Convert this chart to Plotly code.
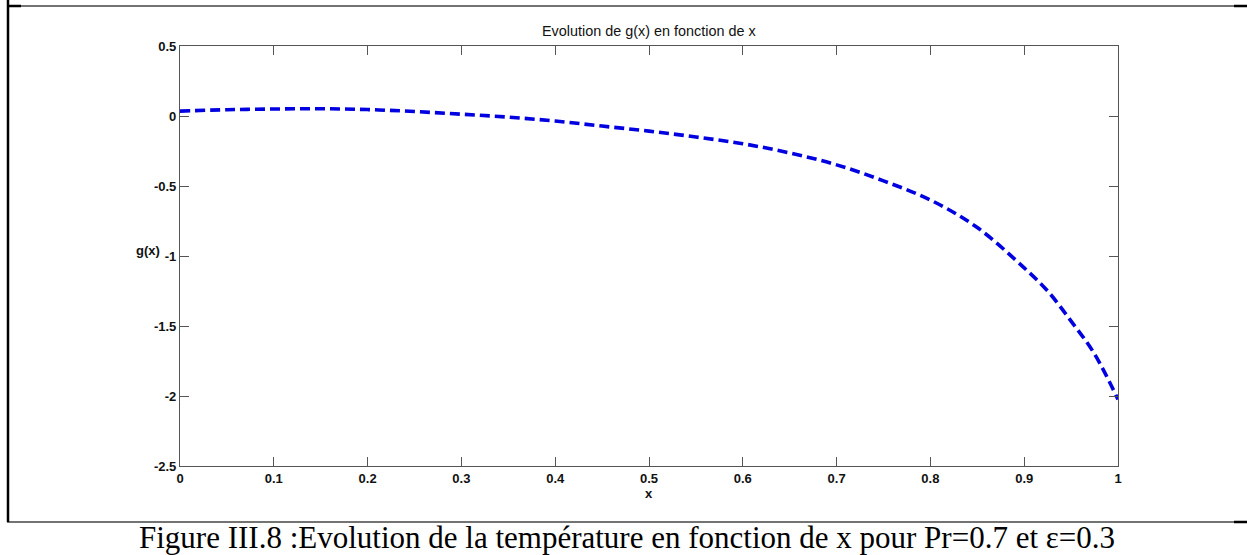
import plotly.graph_objects as go

# ---- data ----
x_vals = [0.00, 0.05, 0.10, 0.15, 0.20, 0.25, 0.30, 0.35, 0.40, 0.45, 0.50,
          0.55, 0.60, 0.65, 0.70, 0.75, 0.80, 0.85, 0.90, 0.925, 0.95, 0.975, 1.00]
g_vals = [0.035, 0.045, 0.050, 0.052, 0.046, 0.032, 0.013, -0.008, -0.036, -0.072, -0.108,
          -0.150, -0.198, -0.264, -0.349, -0.463, -0.600, -0.797, -1.085, -1.250, -1.465, -1.700, -2.025]
x_ticks = [0, 0.1, 0.2, 0.3, 0.4, 0.5, 0.6, 0.7, 0.8, 0.9, 1]
x_tick_text = ["0", "0.1", "0.2", "0.3", "0.4", "0.5", "0.6", "0.7", "0.8", "0.9", "1"]
y_ticks = [0.5, 0, -0.5, -1, -1.5, -2, -2.5]
y_tick_text = ["0.5", "0", "-0.5", "-1", "-1.5", "-2", "-2.5"]
title_text = "Evolution de g(x) en fonction de x"
caption_text = "Figure III.8 :Evolution de la température en fonction de x pour Pr=0.7 et ε=0.3"

W, H = 1247, 555
L, R, T, B = 180, 1118, 46, 466

def px(xp):
    return (xp - L) / (R - L)

def py(yp):
    return (B - yp) / (B - T)

fig = go.Figure()
fig.add_trace(go.Scatter(
    x=x_vals, y=g_vals, mode="lines", line_shape="spline",
    line=dict(color="rgb(0,0,225)", width=3.6, dash="10px,5px"),
    showlegend=False, hoverinfo="skip"))

axis_common = dict(showgrid=False, zeroline=False, showline=True, linecolor="#555555",
                   linewidth=1.2, mirror="ticks", ticks="inside", ticklen=9,
                   tickcolor="#555555", tickwidth=1.2,
                   tickfont=dict(family="Liberation Sans, Arial", size=13, color="#111111"))

fig.update_layout(
    width=W, height=H,
    margin=dict(l=L, r=W - R, t=T, b=H - B),
    paper_bgcolor="white", plot_bgcolor="white",
    xaxis=dict(range=[0, 1], tickvals=x_ticks, ticktext=["<b>%s</b>" % t for t in x_tick_text],
               **axis_common),
    yaxis=dict(range=[-2.5, 0.5], tickvals=y_ticks, ticktext=["<b>%s</b>" % t for t in y_tick_text],
               **axis_common),
)

ann = []
ann.append(dict(text=title_text, x=0.5, y=py(31), xref="paper", yref="paper",
                showarrow=False, xanchor="center", yanchor="middle",
                font=dict(family="Liberation Sans, Arial", size=14.4, color="#111111")))
ann.append(dict(text="<b>x</b>", x=0.5, y=py(493), xref="paper", yref="paper",
                showarrow=False, xanchor="center", yanchor="middle",
                font=dict(family="Liberation Sans, Arial", size=13, color="#111111")))
ann.append(dict(text="<b>g(x)</b>", x=px(148), y=py(250), xref="paper", yref="paper",
                showarrow=False, xanchor="center", yanchor="middle",
                font=dict(family="Liberation Sans, Arial", size=13, color="#111111")))
ann.append(dict(text=caption_text, x=px(627), y=py(537), xref="paper", yref="paper",
                showarrow=False, xanchor="center", yanchor="middle",
                font=dict(family="Liberation Serif, Times New Roman", size=31, color="#000000")))
fig.update_layout(annotations=ann)

shapes = []
# document table borders
shapes.append(dict(type="line", xref="paper", yref="paper", x0=px(7), x1=px(1247), y0=py(6), y1=py(6),
                   line=dict(color="#444444", width=1.3)))
shapes.append(dict(type="line", xref="paper", yref="paper", x0=px(7), x1=px(1247), y0=py(522), y1=py(522),
                   line=dict(color="#444444", width=1.3)))
shapes.append(dict(type="line", xref="paper", yref="paper", x0=px(8), x1=px(8), y0=py(0), y1=py(522),
                   line=dict(color="#000000", width=2.5)))
for (a, b, yy) in [(7, 21, 6), (1234, 1247, 6), (1234, 1247, 522)]:
    shapes.append(dict(type="line", xref="paper", yref="paper", x0=px(a), x1=px(b), y0=py(yy), y1=py(yy),
                       line=dict(color="#000000", width=2.5)))
fig.update_layout(shapes=shapes)

fig.write_html("out.html")
